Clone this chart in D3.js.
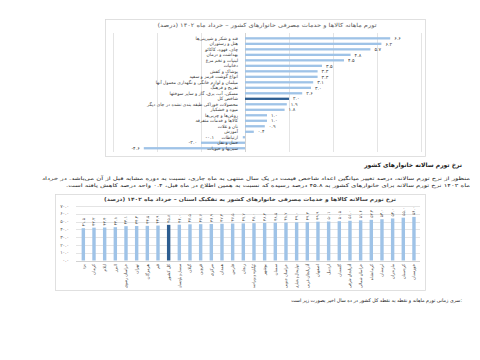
<!DOCTYPE html>
<html>
<head>
<meta charset="utf-8">
<script src="https://cdn.jsdelivr.net/npm/d3@7"></script>
<style>
  html, body { margin: 0; padding: 0; background: #fff; }
  svg text { font-family: "DejaVu Sans", sans-serif; }
</style>
</head>
<body>
<svg id="page" width="480" height="360"></svg>
<script>
// monthly inflation by group, khordad 1402
const monthlyCats = [
  'قند و شکر و شیرینی‌ها',
  'هتل و رستوران',
  'چای، قهوه، کاکائو',
  'بهداشت و درمان',
  'لبنیات و تخم مرغ',
  'دخانیات',
  'پوشاک و کفش',
  'انواع گوشت قرمز و سفید',
  'مبلمان و لوازم خانگی و نگهداری معمول آنها',
  'تفریح و فرهنگ',
  'مسکن، آب، برق، گاز و سایر سوختها',
  'شاخص کل',
  'محصولات خوراکی طبقه بندی نشده در جای دیگر',
  'میوه و خشکبار',
  'روغن‌ها و چربی‌ها',
  'کالاها و خدمات متفرقه',
  'نان و غلات',
  'آموزش',
  'ارتباطات',
  'حمل و نقل',
  'سبزیها و حبوبات'
];
const monthlyVals = [6.6, 6.2, 5.7, 4.8, 4.5, 3.5, 3.3, 3.3, 3.1, 3.0, 2.6, 2.0, 1.9, 1.8, 1.0, 1.0, 0.9, 0.4, -0.1, -2.0, -4.6];
const monthlyTicks = [-6, -4, -2, 0, 2, 4, 6, 8];

// annual inflation by province
const provinces = [
  'یزد', 'کرمان', 'ایلام', 'البرز', 'خراسان رضوی', 'تهران', 'هرمزگان', 'قم',
  'کل کشور', 'سیستان و بلوچستان', 'گیلان', 'قزوین', 'مرکزی', 'همدان', 'فارس', 'زنجان',
  'کهگیلویه و بویراحمد', 'بوشهر', 'سمنان', 'خراسان جنوبی', 'چهارمحال و بختیاری', 'آذربایجان غربی', 'اصفهان', 'اردبیل',
  'گلستان', 'آذربایجان شرقی', 'خراسان شمالی', 'کرمانشاه', 'لرستان', 'مازندران', 'کردستان', 'خوزستان'
];
const annualVals = [41.5, 42.2, 42.4, 42.8, 44.1, 44.3, 44.5, 44.9, 45.8, 46.0, 46.5, 46.7, 46.9, 47.2, 47.5, 47.7,
  48.0, 48.2, 48.5, 48.7, 49.0, 49.2, 49.9, 50.1, 50.5, 51.0, 51.6, 52.2, 53.0, 54.0, 55.0, 56.0];
const annualTicks = [0, 10, 20, 30, 40, 50, 60, 70];

const totalName = 'کل کشور';
const totalGroup = 'شاخص کل';

const light = '#9fc3e7', dark = '#2e5e91', grid = '#d9d9d9';

// persian digits
const fa = s => String(s).replace(/\d/g, d => '۰۱۲۳۴۵۶۷۸۹'[d]);
const num = v => (v < 0 ? '-' : '') + fa(Math.abs(v).toFixed(1));

// squeeze a label if it is wider than max
function fit(max) {
  return function() {
    if (this.getComputedTextLength() > max) {
      d3.select(this).attr('textLength', max).attr('lengthAdjust', 'spacingAndGlyphs');
    }
  };
}

const svg = d3.select('#page');
svg.append('rect').attr('width', 480).attr('height', 360).attr('fill', '#fff');

// ---------- top chart: monthly ----------
const topG = svg.append('g');
topG.append('rect')
  .attr('x', 105.5).attr('y', 19.5).attr('width', 320).attr('height', 137)
  .attr('fill', 'none').attr('stroke', grid).attr('stroke-width', 0.8);

topG.append('text')
  .attr('x', 267).attr('y', 27)
  .attr('text-anchor', 'middle')
  .attr('textLength', 219).attr('lengthAdjust', 'spacingAndGlyphs')
  .style('direction', 'rtl')
  .style('font-size', '5.6px')
  .attr('fill', '#595959')
  .text('تورم ماهانه کالاها و خدمات مصرفی خانوارهای کشور – خرداد ماه ۱۴۰۲ (درصد)');

const mx = d3.scaleLinear().domain([-6, 8]).range([113, 421]);
const my = d3.scaleBand().domain(monthlyCats).range([35.6, 151]).paddingInner(0.58).paddingOuter(0.29);

topG.selectAll('line.grid')
  .data(monthlyTicks)
  .enter().append('line')
  .attr('class', 'grid')
  .attr('x1', d => Math.round(mx(d)) + 0.5).attr('x2', d => Math.round(mx(d)) + 0.5)
  .attr('y1', 33).attr('y2', 152)
  .attr('stroke', d => d === 0 ? '#bfbfbf' : grid)
  .attr('stroke-width', 0.7);

topG.selectAll('rect.bar')
  .data(monthlyVals)
  .enter().append('rect')
  .attr('class', 'bar')
  .attr('x', d => mx(Math.min(0, d)))
  .attr('width', d => Math.abs(mx(d) - mx(0)))
  .attr('y', (d, i) => my(monthlyCats[i]))
  .attr('height', my.bandwidth())
  .attr('fill', (d, i) => monthlyCats[i] === totalGroup ? dark : light);

// category labels
topG.selectAll('text.cat')
  .data(monthlyCats)
  .enter().append('text')
  .attr('class', 'cat')
  .attr('x', 238)
  .attr('y', d => my(d) + my.bandwidth() / 2 + 1.6)
  .attr('text-anchor', 'end')
  .style('font-size', '4.5px')
  .attr('fill', '#404040')
  .text(d => d)
  .each(fit(106));

// value labels
topG.selectAll('text.val')
  .data(monthlyVals)
  .enter().append('text')
  .attr('class', 'val')
  .attr('x', d => d >= 0 ? mx(d) + 4 : Math.min(mx(d) - 4, 214))
  .attr('y', (d, i) => my(monthlyCats[i]) + my.bandwidth() / 2 + 1.7)
  .attr('text-anchor', d => d >= 0 ? 'start' : 'end')
  .style('direction', 'ltr')
  .style('font-size', '4.8px')
  .attr('fill', '#404040')
  .text(d => num(d));

// ---------- text between charts ----------
svg.append('text')
  .attr('x', 462).attr('y', 167)
  .attr('text-anchor', 'end')
  .style('font-size', '6px')
  .style('font-weight', 'bold')
  .attr('fill', '#1a1a1a')
  .text('نرخ تورم سالانه خانوارهای کشور');

svg.append('text')
  .attr('x', 256).attr('y', 180)
  .attr('text-anchor', 'middle')
  .attr('textLength', 428).attr('lengthAdjust', 'spacingAndGlyphs')
  .style('direction', 'rtl')
  .style('font-size', '4.8px')
  .attr('fill', '#262626')
  .text('منظور از نرخ تورم سالانه، درصد تغییر میانگین اعداد شاخص قیمت در یک سال منتهی به ماه جاری، نسبت به دوره مشابه قبل از آن می‌باشد. در خرداد');

svg.append('text')
  .attr('x', 268).attr('y', 187)
  .attr('text-anchor', 'middle')
  .attr('textLength', 404).attr('lengthAdjust', 'spacingAndGlyphs')
  .style('direction', 'rtl')
  .style('font-size', '4.8px')
  .attr('fill', '#262626')
  .text('ماه ۱۴۰۲ نرخ تورم سالانه برای خانوارهای کشور به ۴۵.۸ درصد رسیده که نسبت به همین اطلاع در ماه قبل، ۰.۴ واحد درصد کاهش یافته است.');

// ---------- bottom chart: annual by province ----------
const botG = svg.append('g');
botG.append('rect')
  .attr('x', 55.5).attr('y', 194.5).attr('width', 370).attr('height', 96)
  .attr('fill', 'none').attr('stroke', grid).attr('stroke-width', 0.8);

botG.append('text')
  .attr('x', 250).attr('y', 201)
  .attr('text-anchor', 'middle')
  .attr('textLength', 292).attr('lengthAdjust', 'spacingAndGlyphs')
  .style('direction', 'rtl')
  .style('font-size', '5.2px')
  .style('font-weight', 'bold')
  .attr('fill', '#404040')
  .text('نرخ تورم سالانه کالاها و خدمات مصرفی خانوارهای کشور به تفکیک استان – خرداد ماه ۱۴۰۲ (درصد)');

const by = d3.scaleLinear().domain([0, 70]).range([260.5, 206]);
const bx = d3.scaleBand().domain(provinces).range([78, 419.3]).paddingInner(0.68).paddingOuter(0.34);

botG.selectAll('line.grid')
  .data(annualTicks)
  .enter().append('line')
  .attr('class', 'grid')
  .attr('x1', 76).attr('x2', 420)
  .attr('y1', d => Math.round(by(d)) + 0.5).attr('y2', d => Math.round(by(d)) + 0.5)
  .attr('stroke', d => d === 0 ? '#bfbfbf' : grid)
  .attr('stroke-width', 0.7);

botG.selectAll('text.tick')
  .data(annualTicks)
  .enter().append('text')
  .attr('class', 'tick')
  .attr('x', 69)
  .attr('y', d => by(d) + 1.6)
  .attr('text-anchor', 'end')
  .style('direction', 'ltr')
  .style('font-size', '4.6px')
  .attr('fill', '#595959')
  .text(d => num(d));

botG.selectAll('rect.bar')
  .data(annualVals)
  .enter().append('rect')
  .attr('class', 'bar')
  .attr('x', (d, i) => bx(provinces[i]))
  .attr('width', bx.bandwidth())
  .attr('y', d => by(d))
  .attr('height', d => by(0) - by(d))
  .attr('fill', (d, i) => provinces[i] === totalName ? dark : light);

// values on top, rotated
botG.selectAll('text.val')
  .data(annualVals)
  .enter().append('text')
  .attr('class', 'val')
  .attr('transform', (d, i) => 'translate(' + (bx(provinces[i]) + bx.bandwidth() / 2 + 1.5) + ',' + (by(d) - 2) + ')rotate(-90)')
  .attr('text-anchor', 'start')
  .style('direction', 'ltr')
  .style('font-size', '4.2px')
  .attr('fill', '#404040')
  .text(d => num(d));

// province names, rotated
botG.selectAll('text.cat')
  .data(provinces)
  .enter().append('text')
  .attr('class', 'cat')
  .attr('transform', d => 'translate(' + (bx(d) + bx.bandwidth() / 2 + 1.5) + ',264)rotate(-90)')
  .attr('text-anchor', 'end')
  .style('font-size', '4.2px')
  .attr('fill', '#404040')
  .text(d => d)
  .each(fit(24));

// footer line
svg.append('text')
  .attr('x', 462).attr('y', 302)
  .attr('text-anchor', 'end')
  .style('font-size', '4.8px')
  .attr('fill', '#262626')
  .text('سری زمانی تورم ماهانه و نقطه به نقطه کل کشور در ده سال اخیر بصورت زیر است:');
</script>
</body>
</html>
